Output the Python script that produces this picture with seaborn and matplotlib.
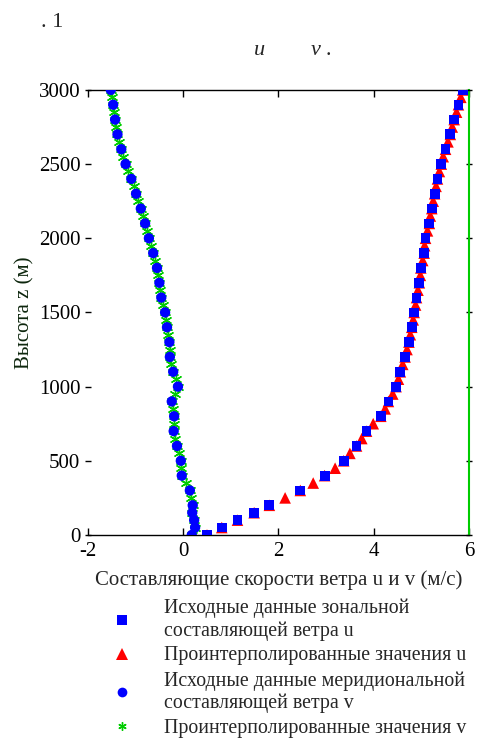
import matplotlib
matplotlib.use("Agg")
import matplotlib.pyplot as plt
from matplotlib.lines import Line2D
import seaborn as sns
import pandas as pd

sns.set_theme(style="white")
plt.rcParams['font.family'] = ['Liberation Serif', 'DejaVu Serif']

# ---- data ----
h_raw = [0, 50, 100, 150, 200, 300, 400, 500, 600, 700, 800, 900, 1000,
         1100, 1200, 1300, 1400, 1500, 1600, 1700, 1800, 1900, 2000,
         2100, 2200, 2300, 2400, 2500, 2600, 2700, 2800, 2900, 3000]
u_raw = [0.50, 0.81, 1.14, 1.49, 1.81, 2.46, 2.97, 3.37, 3.64, 3.85, 4.15, 4.31, 4.47,
         4.56, 4.66, 4.74, 4.80, 4.85, 4.90, 4.96, 4.99, 5.06, 5.09,
         5.17, 5.22, 5.28, 5.34, 5.42, 5.51, 5.61, 5.69, 5.78, 5.87]
v_raw = [0.18, 0.25, 0.23, 0.19, 0.20, 0.14, -0.03, -0.05, -0.13, -0.20, -0.19, -0.24, -0.11,
         -0.21, -0.28, -0.29, -0.34, -0.38, -0.46, -0.50, -0.55, -0.63, -0.72,
         -0.80, -0.89, -0.99, -1.09, -1.21, -1.30, -1.38, -1.43, -1.47, -1.52]

h_int = [0, 50, 100, 150, 200, 250, 300, 350, 400, 450, 500, 550, 600, 650, 700,
         750, 800, 850, 900, 950, 1000, 1050, 1100, 1150, 1200, 1250, 1300, 1350,
         1400, 1450, 1500, 1550, 1600, 1650, 1700, 1750, 1800, 1850, 1900, 1950,
         2000, 2050, 2100, 2150, 2200, 2250, 2300, 2350, 2400, 2450, 2500, 2550,
         2600, 2650, 2700, 2750, 2800, 2850, 2900, 2950, 3000]
u_int = [0.50, 0.81, 1.14, 1.49, 1.81, 2.14, 2.46, 2.73, 2.97, 3.19, 3.37, 3.50, 3.64, 3.75, 3.85,
         3.99, 4.15, 4.24, 4.31, 4.40, 4.47, 4.52, 4.56, 4.61, 4.66, 4.70, 4.74, 4.77,
         4.80, 4.83, 4.85, 4.88, 4.90, 4.93, 4.96, 4.98, 4.99, 5.03, 5.06, 5.07,
         5.09, 5.13, 5.17, 5.19, 5.22, 5.25, 5.28, 5.31, 5.34, 5.38, 5.42, 5.46,
         5.51, 5.56, 5.61, 5.65, 5.69, 5.74, 5.78, 5.83, 5.87]
v_int = [0.18, 0.25, 0.23, 0.19, 0.20, 0.17, 0.14, 0.05, -0.03, -0.04, -0.05, -0.09, -0.13, -0.17, -0.20,
         -0.19, -0.19, -0.22, -0.24, -0.17, -0.11, -0.16, -0.21, -0.25, -0.28, -0.28, -0.29, -0.32,
         -0.34, -0.36, -0.38, -0.42, -0.46, -0.48, -0.50, -0.52, -0.55, -0.59, -0.63, -0.68,
         -0.72, -0.76, -0.80, -0.85, -0.89, -0.94, -0.99, -1.04, -1.09, -1.15, -1.21, -1.26,
         -1.30, -1.34, -1.38, -1.41, -1.43, -1.45, -1.47, -1.50, -1.52]

x_ticks = [-2, 0, 2, 4, 6]
y_ticks = [0, 500, 1000, 1500, 2000, 2500, 3000]

labels = ["Исходные данные зональной\nсоставляющей ветра u",
          "Проинтерполированные значения u",
          "Исходные данные меридиональной\nсоставляющей ветра v",
          "Проинтерполированные значения v"]
xlabel = "Составляющие скорости ветра u и v (м/с)"
ylabel = "Высота z (м)"

raw = pd.DataFrame({"h": h_raw, "u": u_raw, "v": v_raw})
itp = pd.DataFrame({"h": h_int, "u": u_int, "v": v_int})

fig = plt.figure(figsize=(4.78, 7.43), dpi=100)
ax = fig.add_axes([0.184, 0.280, 0.797, 0.599])

blue = "#0000ff"
red = "#ff0000"
green = "#00cc00"
star = (6, 2, 0)
FS = 15

sns.scatterplot(data=itp, x="u", y="h", ax=ax, marker="^", color=red, s=70,
                edgecolor="none", linewidth=0, zorder=2, legend=False)
sns.scatterplot(data=raw, x="u", y="h", ax=ax, marker="s", color=blue, s=50,
                edgecolor="none", linewidth=0, zorder=3, legend=False)
sns.scatterplot(data=itp, x="v", y="h", ax=ax, marker=star, color=green, s=55,
                linewidth=1.0, zorder=2, legend=False)
sns.scatterplot(data=raw, x="v", y="h", ax=ax, marker="o", color=blue, s=55,
                edgecolor="none", linewidth=0, zorder=3, legend=False)

ax.set_xlim(-2, 6)
ax.set_ylim(0, 3000)
ax.set_xticks(x_ticks)
ax.set_yticks(y_ticks)
ax.set_xticklabels([str(t) for t in x_ticks])
ax.set_yticklabels([str(t) for t in y_ticks])

for s in ["top", "bottom"]:
    ax.spines[s].set_color("black")
    ax.spines[s].set_linewidth(1.0)
ax.spines["left"].set_visible(False)
ax.spines["right"].set_color(green)
ax.spines["right"].set_linewidth(1.5)

ax.tick_params(axis="x", which="both", direction="in", length=5, width=1,
               top=True, bottom=True, labelsize=FS, pad=5, colors="black")
ax.tick_params(axis="y", which="both", direction="inout", length=5, width=1,
               left=True, right=True, labelsize=FS, pad=3, colors="black")

ax.set_xlabel(xlabel, fontsize=FS, labelpad=7)
ax.set_ylabel(ylabel, fontsize=FS, labelpad=3, color="#0d260d")

handles = [
    Line2D([], [], linestyle="none", marker="s", color=blue, markersize=7, markeredgewidth=0),
    Line2D([], [], linestyle="none", marker="^", color=red, markersize=8, markeredgewidth=0),
    Line2D([], [], linestyle="none", marker="o", color=blue, markersize=7, markeredgewidth=0),
    Line2D([], [], linestyle="none", marker=star, color=green, markersize=6, markeredgewidth=1),
]
fig.legend(handles, labels, loc="upper left", bbox_to_anchor=(0.217, 0.205),
           frameon=False, fontsize=14.3, handlelength=1.0, handletextpad=1.65,
           labelspacing=0.3, borderaxespad=0)

fig.text(0.085, 0.970, ". 1", fontsize=16, ha="left", va="center")
fig.text(0.532, 0.932, "u", fontsize=16, style="italic", ha="left", va="center")
fig.text(0.650, 0.932, "v .", fontsize=16, style="italic", ha="left", va="center")

fig.savefig("out.png", dpi=100)
